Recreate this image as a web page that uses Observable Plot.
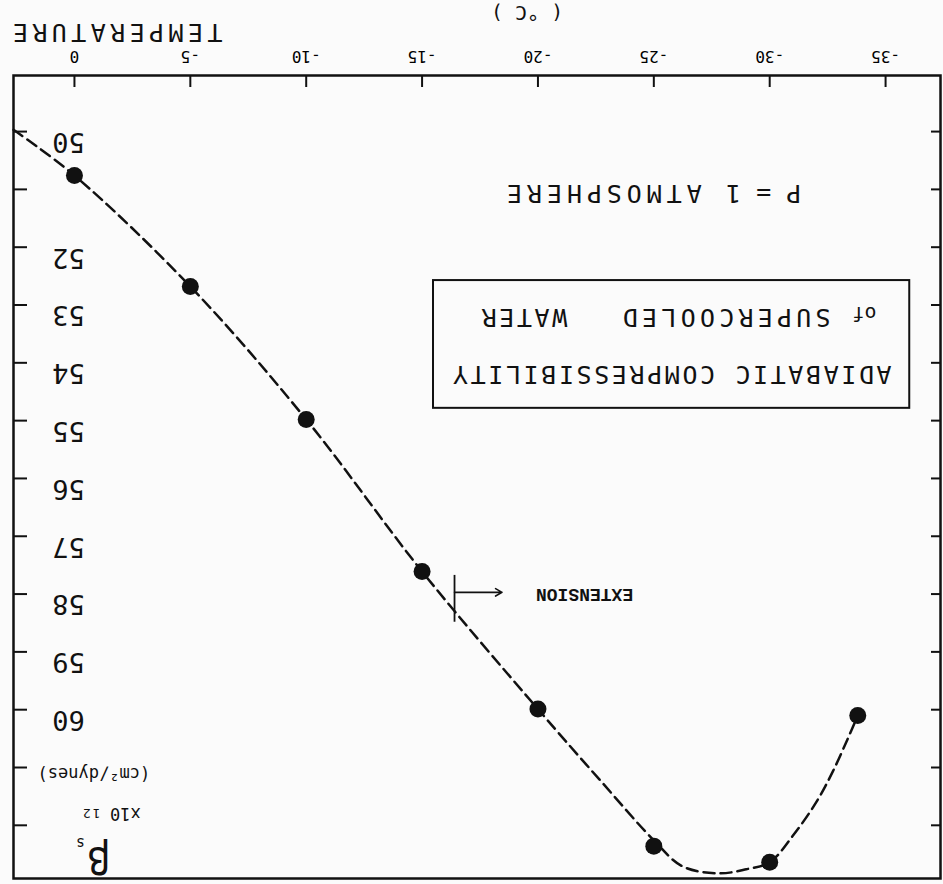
<!DOCTYPE html>
<html><head><meta charset="utf-8">
<script src="https://cdn.jsdelivr.net/npm/d3@7"></script>
<script src="https://cdn.jsdelivr.net/npm/@observablehq/plot@0.6"></script>
<style>html,body{margin:0;padding:0;background:#fbfbfb;overflow:hidden}</style>
</head><body><div id="chart"></div>
<script>
// Measured points: temperature (°C) and adiabatic compressibility βs ×10^12 (cm²/dyn)
const temperature = [0, -5, -10, -15, -20, -25, -30, -33.8];
const compressibility = [50.76, 52.68, 54.98, 57.61, 59.99, 62.36, 62.64, 60.10];

// Hand-drawn dashed curve
const curveT = [2.63, 0, -5, -10, -15, -20, -22.66, -25, -26.24, -27.84, -28.99, -30, -30.98, -32.01, -32.71, -33.36, -33.8];
const curveV = [49.97, 50.76, 52.68, 54.98, 57.61, 59.99, 61.21, 62.26, 62.71, 62.83, 62.76, 62.64, 62.19, 61.60, 61.08, 60.51, 60.10];

// Axes
const xTicks = [-35, -30, -25, -20, -15, -10, -5, 0];
const xTickLabels = ["-35", "-30", "-25", "-20", "-15", "-10", "-5", "0"];
const yTicks = [50, 51, 52, 53, 54, 55, 56, 57, 58, 59, 60, 61, 62];
const yTickLabels = [50, 52, 53, 54, 55, 56, 57, 58, 59, 60];
const xTitle = "TEMPERATURE";
const xUnit = "( °C )";

// Title block and annotations (anchored in data space)
const titleText = ["ADIABATIC COMPRESSIBILITY", "of", "SUPERCOOLED", "WATER", "P = 1", "ATMOSPHERE"];
const titleT = [-25.74, -34.09, -28.05, -19.36, -29.74, -22.76];
const titleV = [54.185, 53.15, 53.20, 53.20, 51.055, 51.055];
const boxT = [-36.0, -15.45];
const boxV = [52.56, 54.77];
const extensionLabel = "EXTENSION";
const extensionLabelAt = [-22.01, 58.01];
const extensionBarT = -16.40;
const extensionBarV = [57.66, 58.47];
const extensionArrowT = [-16.40, -18.45];
const extensionArrowV = 57.97;
const unitText = ["β", "s", "x10", "12", "(cm²/dynes)"];
const unitT = [-1.04, -0.26, -2.20, -0.70, -0.84];
const unitV = [62.59, 62.31, 61.80, 61.79, 61.10];

const points = temperature.map((t, i) => ({t, v: compressibility[i]}));
const curve = curveT.map((t, i) => ({t, v: curveV[i]}));
const titles = titleText.map((s, i) => ({s, t: titleT[i], v: titleV[i]}));
const units = unitText.map((s, i) => ({s, t: unitT[i], v: unitV[i]}));

const mono = "DejaVu Sans Mono";
const plot = Plot.plot({
  width: 943, height: 884,
  marginLeft: 2, marginRight: 14, marginTop: 5, marginBottom: 76,
  x: {domain: [-37.37, 2.63]},
  y: {domain: [49.03, 62.92], axis: null},
  style: {background: "#fbfbfb", color: "black", fontFamily: mono, transform: "rotate(180deg)", overflow: "visible"},
  marks: [
    Plot.frame({stroke: "#111", strokeWidth: 2.5}),
    Plot.tickX(xTicks, {x: d => d, insetTop: 792, stroke: "#111", strokeWidth: 2}),
    Plot.axisX(xTicks, {anchor: "bottom", tickSize: 0, tickPadding: 13, fontSize: 16,
      tickFormat: d => xTickLabels[xTicks.indexOf(d)], label: null}),
    Plot.tickY(yTicks, {y: d => d, insetLeft: 914, stroke: "#111", strokeWidth: 2}),
    Plot.tickY(yTicks, {y: d => d, insetRight: 917, stroke: "#111", strokeWidth: 2}),
    Plot.text(yTickLabels, {y: d => d, text: d => String(d), frameAnchor: "right", dx: -55, dy: -10,
      fontSize: 27, textAnchor: "middle", fill: "#111"}),
    Plot.text([xTitle], {frameAnchor: "bottom-right", dx: 5, dy: 52, textAnchor: "end", fontSize: 25, fill: "#111"}),
    Plot.text([xUnit], {frameAnchor: "bottom", dx: -50, dy: 70, fontSize: 20, fill: "#111"}),
    Plot.line(curve, {x: "t", y: "v", curve: "catmull-rom", stroke: "#111", strokeWidth: 2.5, strokeDasharray: "11,6"}),
    Plot.dot(points, {x: "t", y: "v", r: 8.5, fill: "#111"}),
    Plot.rect([{x1: boxT[0], x2: boxT[1], y1: boxV[0], y2: boxV[1]}], {x1: "x1", x2: "x2", y1: "y1", y2: "y2", fill: "none", stroke: "#111", strokeWidth: 2}),
    Plot.text(titles, {x: "t", y: "v", text: "s", fontSize: d => d.s === "of" ? 20 : 25, fill: "#111"}),
    Plot.ruleX([extensionBarT], {x: d => d, y1: extensionBarV[0], y2: extensionBarV[1], stroke: "#111", strokeWidth: 1.8}),
    Plot.arrow([0], {x1: extensionArrowT[0], x2: extensionArrowT[1], y1: extensionArrowV, y2: extensionArrowV, stroke: "#111", strokeWidth: 1.6, headLength: 7}),
    Plot.text([extensionLabel], {x: extensionLabelAt[0], y: extensionLabelAt[1], fontFamily: "Liberation Mono", fontWeight: "bold", fontSize: 18, fill: "#111"}),
    Plot.text(units, {x: "t", y: "v", text: "s", fill: "#111",
      fontFamily: d => d.s === "β" ? "DejaVu Serif" : "DejaVu Sans",
      fontStyle: d => d.s === "β" ? "italic" : "normal",
      fontSize: d => d.s === "β" ? 38 : d.s === "s" ? 15 : d.s === "12" ? 13 : 17})
  ]
});
// letter spacing of the lettering-guide texts
const spacing = {"TEMPERATURE": 4.4, "ADIABATIC COMPRESSIBILITY": 2.6, "SUPERCOOLED": 4.2, "WATER": 2.6, "ATMOSPHERE": 4.9, "12": 2};
d3.select(plot).selectAll("text").each(function() {
  const s = this.textContent;
  if (spacing[s] != null) this.setAttribute("letter-spacing", spacing[s]);
});
document.getElementById("chart").appendChild(plot);
</script>
</body></html>
